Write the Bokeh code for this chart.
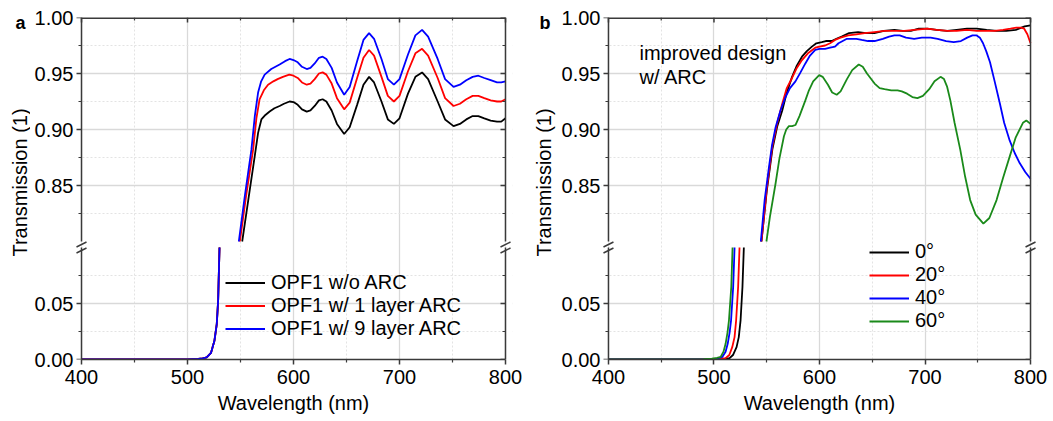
import math
from bokeh.plotting import figure
from bokeh.models import (Range1d, LinearAxis, FixedTicker, Grid, Label, Legend,
                          LegendItem, PrintfTickFormatter, CustomJSTickFormatter, BoxAnnotation)
from bokeh.layouts import row, column
from bokeh.embed import file_html
from bokeh.resources import INLINE
from bokeh.core.validation import silence
from bokeh.core.validation.warnings import MISSING_RENDERERS

silence(MISSING_RENDERERS, True)

# ---------------- data: panel a ----------------
wl_a_edge = [400, 450, 500, 510, 514.3, 518.1, 522.2, 525.4, 527.6, 528.9, 530.2]
T_a_edge = [0.0, 0.0, 0.0002, 0.0006, 0.001, 0.0018, 0.006, 0.0167, 0.0315, 0.0524, 0.10]

wl_a_black = [551.6, 557.5, 563.4, 566.6, 569.7, 573.5, 577.5, 582, 586.9, 591, 596.3, 600, 604, 608,
              612.5, 616, 620, 624, 627.5, 631, 636, 641, 647.8, 653, 660, 666, 671.3, 676, 683, 689,
              694.7, 700, 708, 715, 721.3, 727, 736, 743, 751, 757, 763, 769, 774.4, 780, 786, 792, 796, 800]
T_a_black = [0.800, 0.838, 0.876, 0.897, 0.909, 0.913, 0.916, 0.919, 0.921, 0.923, 0.925, 0.9245, 0.922, 0.918,
             0.916, 0.917, 0.921, 0.926, 0.927, 0.925, 0.917, 0.905, 0.896, 0.902, 0.922, 0.940, 0.947, 0.942, 0.925, 0.909,
             0.905, 0.910, 0.932, 0.947, 0.951, 0.945, 0.925, 0.909, 0.903, 0.905, 0.909, 0.912, 0.912, 0.910, 0.908, 0.907, 0.907, 0.910]

wl_a_red = [549.4, 555.5, 561.9, 565, 568, 572, 576, 581, 585, 590, 596, 600, 604, 608,
            612.5, 616, 620, 624, 627.5, 631, 636, 641, 647.8, 653, 660, 666, 671.3, 676, 683, 689,
            694.7, 700, 708, 715, 721.3, 727, 736, 743, 751, 757, 763, 769, 774.4, 780, 786, 792, 796, 800]
T_a_red = [0.800, 0.842, 0.882, 0.910, 0.927, 0.935, 0.940, 0.943, 0.945, 0.947, 0.949, 0.948, 0.946, 0.942,
           0.940, 0.941, 0.945, 0.950, 0.951, 0.949, 0.941, 0.928, 0.918, 0.924, 0.946, 0.964, 0.971, 0.966, 0.947, 0.930,
           0.925, 0.930, 0.952, 0.968, 0.972, 0.966, 0.946, 0.928, 0.921, 0.923, 0.927, 0.930, 0.930, 0.928, 0.926, 0.925, 0.925, 0.927]

wl_a_blue = [548.4, 554, 560.3, 563.5, 566.6, 569.5, 572.8, 579, 586.9, 592, 596.3, 600, 604, 608,
             612.5, 616, 620, 624, 627.5, 631, 636, 641, 647.8, 653, 660, 666, 671.3, 676, 683, 689,
             694.7, 700, 708, 715, 721.3, 727, 736, 743, 751, 757, 763, 769, 774.4, 780, 786, 792, 796, 800]
T_a_blue = [0.800, 0.840, 0.882, 0.912, 0.933, 0.943, 0.949, 0.954, 0.958, 0.961, 0.963, 0.962, 0.960, 0.956,
            0.954, 0.955, 0.959, 0.964, 0.965, 0.963, 0.955, 0.942, 0.931, 0.938, 0.961, 0.980, 0.986, 0.981, 0.963, 0.945,
            0.940, 0.945, 0.967, 0.984, 0.989, 0.983, 0.963, 0.945, 0.938, 0.940, 0.944, 0.947, 0.948, 0.946, 0.944, 0.942, 0.942, 0.943]

labels_a = ["OPF1 w/o ARC", "OPF1 w/ 1 layer ARC", "OPF1 w/ 9 layer ARC"]

# ---------------- data: panel b ----------------
wl_b_0 = [400, 450, 500, 510, 514.8, 518, 521.4, 523.5, 525.2, 527, 528.3,
          545, 550, 555.3, 560, 564.7, 569, 574, 578.5, 583.4, 588, 592.8, 597, 602.2, 606, 611.6, 616, 621,
          628, 636.6, 644, 652, 661, 671, 679, 686.6, 694, 702, 711, 721, 730, 739.7, 749, 758.4, 768, 777,
          786, 794.4, 800]
T_b_0 = [0.0, 0.0, 0.0002, 0.0006, 0.0012, 0.004, 0.011, 0.02, 0.035, 0.065, 0.10,
         0.800, 0.845, 0.882, 0.903, 0.917, 0.933, 0.947, 0.957, 0.965, 0.970, 0.974, 0.977, 0.978, 0.979, 0.979, 0.981, 0.983,
         0.986, 0.987, 0.986, 0.986, 0.988, 0.989, 0.988, 0.988, 0.990, 0.990, 0.989, 0.988, 0.989, 0.990, 0.990, 0.989, 0.988, 0.988,
         0.989, 0.992, 0.993]

wl_b_20 = [400, 450, 500, 511, 514.5, 517.3, 519.5, 521, 522.9, 524.2,
           545, 550, 555.3, 560, 564.7, 569, 574, 578.5, 583.4, 589, 596, 600, 605.3, 610, 614.7, 620, 627.2,
           635, 642.8, 652, 661.6, 670, 680.3, 690, 702.2, 711, 721, 730, 739.7, 749, 758.4, 766, 774, 781,
           786.6, 791, 794, 797, 800]
T_b_20 = [0.0, 0.0, 0.0003, 0.0012, 0.004, 0.011, 0.02, 0.035, 0.065, 0.10,
          0.800, 0.847, 0.885, 0.906, 0.923, 0.937, 0.946, 0.955, 0.962, 0.968, 0.973, 0.974, 0.975, 0.977, 0.980, 0.982, 0.984,
          0.985, 0.986, 0.987, 0.988, 0.988, 0.988, 0.989, 0.990, 0.989, 0.988, 0.988, 0.989, 0.988, 0.988, 0.988, 0.989, 0.990,
          0.991, 0.991, 0.990, 0.985, 0.977]

wl_b_40 = [400, 450, 490, 500, 504, 508, 511, 513, 514.8, 516.2, 518.2, 519.5,
           544.4, 548, 552.2, 555, 558.4, 563, 567.8, 572, 577.2, 582, 586.6, 591, 596, 600, 605.3, 610, 614.7,
           618, 622, 626, 630.3, 635, 640, 646, 652.2, 660, 666, 671, 676, 682, 689.7, 697, 705.3, 712, 720,
           727.2, 734, 740, 745, 749, 752, 755, 758, 761.6, 766, 771, 775, 780.3, 785, 789.7, 795, 800]
T_b_40 = [0.0, 0.0, 0.0001, 0.0004, 0.0011, 0.0024, 0.007, 0.014, 0.024, 0.035, 0.065, 0.10,
          0.800, 0.837, 0.867, 0.886, 0.902, 0.917, 0.929, 0.937, 0.943, 0.951, 0.959, 0.966, 0.971, 0.972, 0.972, 0.973, 0.974,
          0.977, 0.979, 0.981, 0.981, 0.981, 0.980, 0.979, 0.979, 0.981, 0.983, 0.984, 0.984, 0.982, 0.981, 0.982, 0.982, 0.981, 0.979,
          0.978, 0.979, 0.982, 0.984, 0.984, 0.982, 0.977, 0.970, 0.960, 0.943, 0.923, 0.906, 0.890, 0.879, 0.870, 0.862, 0.856]

wl_b_60 = [400, 450, 490, 498, 503, 506.3, 509, 511, 512.8, 514.2, 516.4, 517.6,
           549.7, 553, 558.4, 562, 566.3, 568.5, 571, 574, 577.2, 581, 586.6, 590, 594, 599.7, 603, 608, 612,
           616.3, 620, 626, 631, 637.2, 641, 645, 652.2, 657, 661.6, 668, 674, 678, 683, 688, 692.8, 698, 704,
           709, 714.7, 718, 721, 724, 728, 733.4, 738, 742.8, 748, 755.3, 761, 767.8, 774, 780.3, 786, 792.8,
           796, 800]
T_b_60 = [0.0, 0.0, 0.0003, 0.0008, 0.0015, 0.0024, 0.007, 0.014, 0.024, 0.035, 0.065, 0.10,
          0.800, 0.822, 0.852, 0.874, 0.894, 0.900, 0.903, 0.903, 0.904, 0.912, 0.926, 0.935, 0.943, 0.9485, 0.947, 0.940, 0.933,
          0.931, 0.934, 0.945, 0.953, 0.958, 0.956, 0.950, 0.941, 0.937, 0.936, 0.935, 0.935, 0.934, 0.932, 0.929, 0.928, 0.930, 0.936,
          0.943, 0.947, 0.945, 0.938, 0.926, 0.906, 0.882, 0.858, 0.837, 0.824, 0.816, 0.821, 0.837, 0.857, 0.876, 0.893, 0.906,
          0.908, 0.905]

labels_b = ["0°", "20°", "40°", "60°"]

x_major = [400, 500, 600, 700, 800]
x_minor = [450, 550, 650, 750]
y_up_major = [0.85, 0.90, 0.95, 1.00]
y_up_minor = [0.825, 0.875, 0.925, 0.975]
y_lo_major = [0.00, 0.05]
y_lo_minor = [0.025, 0.075]
up_range = (0.80, 1.00)
lo_range = (0.00, 0.10)
x_range = (400, 800)

# ---------------- style / layout ----------------
FONT = "Liberation Sans"
TXT = "#000000"
SPINE = "#3a3a3a"
FS = "20px"
LW = 1.8
C_BLACK, C_RED, C_BLUE, C_GREEN = "#000000", "#ff0000", "#0000ff", "#1a8a1a"

PLOT_W = 424        # pixel width between the two vertical spines
M = 7               # frame margin outside each vertical spine (room for break marks)
FRAME_W = PLOT_W + 2 * M
UP_H = 224          # pixel height of the 0.80-1.00 segment
LO_H = 112          # pixel height of the 0.00-0.10 segment
GAP = 6             # pixel gap of the axis break
FRAME_H = UP_H + GAP + LO_H
TOP = 17
BOT = 62
H = TOP + FRAME_H + BOT

NM_PX = (x_range[1] - x_range[0]) / PLOT_W          # data units per pixel, x
LO_PX = (lo_range[1] - lo_range[0]) / LO_H          # data units per pixel, lower segment
UP_PX = (up_range[1] - up_range[0]) / UP_H          # data units per pixel, upper segment
X_VIEW = (x_range[0] - M * NM_PX, x_range[1] + M * NM_PX)
LO_VIEW = (lo_range[0], lo_range[0] + FRAME_H * LO_PX)
UP_VIEW = (up_range[1] - FRAME_H * UP_PX, up_range[1])
K = LO_PX / UP_PX


def up_to_lo(v):
    return LO_VIEW[0] + (v - UP_VIEW[0]) * K


def panel(left_border, right_border, series, legend_labels, legend_loc, row_h):
    p = figure(width=left_border + FRAME_W + right_border, height=H,
               x_range=Range1d(*X_VIEW), y_range=Range1d(*LO_VIEW),
               toolbar_location=None, output_backend="svg",
               x_axis_location=None, y_axis_location=None,
               min_border_left=left_border, min_border_right=right_border,
               min_border_top=TOP, min_border_bottom=BOT,
               outline_line_color=None, background_fill_color="white",
               border_fill_color="white")
    p.extra_y_ranges = {"up": Range1d(*UP_VIEW)}
    p.center = [c for c in p.center if not isinstance(c, Grid)]

    grid_style = dict(grid_line_color="#d9d9d9", grid_line_width=1.3,
                      minor_grid_line_color="#e3e3e3", minor_grid_line_width=1.0,
                      minor_grid_line_dash="2 2")
    p.add_layout(Grid(dimension=0, ticker=FixedTicker(ticks=x_major, minor_ticks=x_minor), **grid_style))
    p.add_layout(Grid(dimension=1, ticker=FixedTicker(ticks=y_lo_major, minor_ticks=y_lo_minor), **grid_style))
    p.add_layout(Grid(dimension=1, y_range_name="up",
                      ticker=FixedTicker(ticks=y_up_major, minor_ticks=y_up_minor), **grid_style))
    # keep the frame margins outside the spines blank
    p.add_layout(BoxAnnotation(right=x_range[0], fill_color="white", fill_alpha=1,
                               line_color=None, level="underlay"))
    p.add_layout(BoxAnnotation(left=x_range[1], fill_color="white", fill_alpha=1,
                               line_color=None, level="underlay"))

    # left tick labels for both segments on one axis (its ticks are drawn as markers below)
    left_ticks = y_lo_major + [up_to_lo(v) for v in y_up_major]
    fmt = CustomJSTickFormatter(args=dict(split=lo_range[1] + 0.01, u0=UP_VIEW[0], l0=LO_VIEW[0], k=K),
                                code="const v = tick > split ? u0 + (tick - l0) / k : tick;"
                                     " return v.toFixed(2);")
    yl = LinearAxis(ticker=FixedTicker(ticks=left_ticks, minor_ticks=[]), formatter=fmt,
                    axis_line_color=None, major_tick_line_color=None, minor_tick_line_color=None,
                    major_tick_in=0, major_tick_out=0, minor_tick_in=0, minor_tick_out=0,
                    major_label_text_font=FONT, major_label_text_font_size=FS,
                    major_label_text_color=TXT, major_label_standoff=8 - M)
    p.add_layout(yl, "left")

    xb = LinearAxis(ticker=FixedTicker(ticks=x_major, minor_ticks=x_minor), bounds=x_range,
                    formatter=PrintfTickFormatter(format="%d"),
                    axis_line_color=SPINE, axis_line_width=1.5,
                    major_tick_line_color=SPINE, major_tick_line_width=1.5,
                    minor_tick_line_color=SPINE, minor_tick_line_width=1.2,
                    major_tick_in=0, major_tick_out=5, minor_tick_in=0, minor_tick_out=3,
                    major_label_text_font=FONT, major_label_text_font_size=FS,
                    major_label_text_color=TXT, major_label_standoff=5,
                    axis_label="Wavelength (nm)", axis_label_text_font=FONT,
                    axis_label_text_font_size=FS, axis_label_text_font_style="normal",
                    axis_label_text_color=TXT, axis_label_standoff=5)
    p.add_layout(xb, "below")

    items = []
    for (wl, T, col), lab in zip(series, legend_labels):
        lo_x = [w for w, t in zip(wl, T) if t <= lo_range[1]]
        lo_y = [t for t in T if t <= lo_range[1]]
        up_x = [w for w, t in zip(wl, T) if t >= up_range[0]]
        up_y = [t for t in T if t >= up_range[0]]
        r = p.line(lo_x, lo_y, line_color=col, line_width=LW)
        p.line(up_x, up_y, line_color=col, line_width=LW, y_range_name="up")
        items.append(LegendItem(label=lab, renderers=[r]))

    # frame spines with the break gap
    for xe in x_range:
        p.line([xe, xe], list(lo_range), line_color=SPINE, line_width=1.5)
        p.line([xe, xe], list(up_range), y_range_name="up", line_color=SPINE, line_width=1.5)
    p.line(list(x_range), [up_range[1]] * 2, y_range_name="up", line_color=SPINE, line_width=3.0)

    # ticks: outward on the left, inward on the right and top
    tick_sets = [(y_lo_major, 5, 1.5, "default"), (y_lo_minor, 3, 1.2, "default"),
                 (y_up_major, 5, 1.5, "up"), (y_up_minor, 3, 1.2, "up")]
    for ys, ln, w, rn in tick_sets:
        for xc in (x_range[0] - ln / 2 * NM_PX, x_range[1] - ln / 2 * NM_PX):
            p.scatter([xc] * len(ys), ys, marker="dash", size=ln, line_color=SPINE,
                      line_width=w, line_cap="butt", y_range_name=rn)
    for xs, ln, w in ((x_major, 5, 1.5), (x_minor, 3, 1.2)):
        p.scatter(xs, [up_range[1] - ln / 2 * UP_PX] * len(xs), marker="dash", angle=math.pi / 2,
                  size=ln, line_color=SPINE, line_width=w, line_cap="butt", y_range_name="up")

    # axis-break marks: two parallel strokes across each vertical spine
    bx0, bx1, by0, by1 = [], [], [], []
    for xe in x_range:
        for off in (3, -3):
            yc = lo_range[1] + off * LO_PX
            bx0.append(xe - 5 * NM_PX)
            bx1.append(xe + 5 * NM_PX)
            by0.append(yc - 2.5 * LO_PX)
            by1.append(yc + 2.5 * LO_PX)
    p.segment(bx0, by0, bx1, by1, line_color=SPINE, line_width=1.5)

    p.add_layout(Legend(items=items, location=legend_loc, orientation="vertical",
                        label_text_font=FONT, label_text_font_size=FS, label_text_color=TXT,
                        glyph_width=40, glyph_height=row_h, label_height=row_h,
                        label_standoff=6, spacing=0, padding=0, margin=0,
                        border_line_color=None, background_fill_alpha=0))
    return p


def label_fig(width, letter, letter_x, ylab_x):
    p = figure(width=width, height=H, x_range=Range1d(0, 1), y_range=Range1d(0, 1),
               toolbar_location=None, output_backend="svg",
               x_axis_location=None, y_axis_location=None,
               min_border_left=0, min_border_right=0, min_border_top=0, min_border_bottom=0,
               outline_line_color=None, border_fill_color="white", background_fill_color="white")
    p.center = [c for c in p.center if not isinstance(c, Grid)]
    p.add_layout(Label(x=ylab_x, y=H - 182, x_units="screen", y_units="screen",
                       text="Transmission (1)", angle=math.pi / 2, text_align="center",
                       text_baseline="middle", text_font=FONT, text_font_size=FS,
                       text_color=TXT))
    p.add_layout(Label(x=letter_x, y=H - 22, x_units="screen", y_units="screen",
                       text=letter, text_align="left", text_baseline="alphabetic",
                       text_font=FONT, text_font_size="18px", text_font_style="bold",
                       text_color=TXT))
    return p


series_a = [(wl_a_edge + wl_a_black, T_a_edge + T_a_black, C_BLACK),
            (wl_a_edge + wl_a_red, T_a_edge + T_a_red, C_RED),
            (wl_a_edge + wl_a_blue, T_a_edge + T_a_blue, C_BLUE)]
series_b = [(wl_b_0, T_b_0, C_BLACK), (wl_b_20, T_b_20, C_RED),
            (wl_b_40, T_b_40, C_BLUE), (wl_b_60, T_b_60, C_GREEN)]

# canvas: [la 0-30][pa 30-525][lb 525-558][pb 558-1053]; spines at 81/505 and 606/1030
pa = panel(44, 13, series_a, labels_a, (144 + M, 19), 23)
pb = panel(41, 16, series_b, labels_b, (261 + M, 27), 22)

for txt, yb in (("improved design", 52.7), ("w/ ARC", 76.5)):
    pb.add_layout(Label(x=31 + M, y=FRAME_H + TOP - yb, x_units="screen", y_units="screen",
                        text=txt, text_align="left", text_baseline="alphabetic", text_font=FONT,
                        text_font_size=FS, text_color=TXT))

la = label_fig(30, "a", 15, 19.4)
lb = label_fig(33, "b", 14, 18.5)

layout = row(la, column(pa), lb, column(pb))

with open("out.html", "w") as f:
    f.write(file_html(layout, INLINE))
